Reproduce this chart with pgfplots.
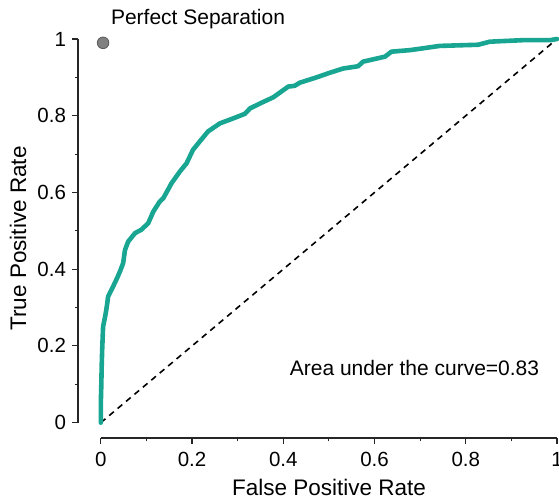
\documentclass[border=0pt]{standalone}
\usepackage{fontspec}
\setmainfont{Liberation Sans}
\usepackage{pgfplots}
\pgfplotsset{compat=1.18}
\usetikzlibrary{calc}
\definecolor{roc}{RGB}{24,166,146}
\definecolor{dotgray}{RGB}{128,128,128}

\begin{document}
\begin{tikzpicture}
\begin{axis}[
    name=ax,
    scale only axis,
    width=479pt, height=399pt,
    xmin=-0.05, xmax=1, ymin=-0.04, ymax=1,
    axis x line*=bottom, axis y line*=left,
    x axis line style={-, shorten <=22.8pt},
    y axis line style={-, shorten <=15.35pt},
    axis line style={line width=1.1pt, black!85},
    xtick={0,0.2,...,1}, ytick={0,0.2,...,1},
    minor x tick num=1, minor y tick num=1,
    tick align=outside,
    major tick length=5.5pt, minor tick length=3.3pt,
    tick style={line width=1.1pt, black!85},
    /pgf/number format/assume math mode=true,
    tick label style={font=\fontsize{20.5}{24}\selectfont},
    xticklabel style={yshift=-5pt},
    yticklabel style={xshift=-3pt},
    xlabel={False Positive Rate}, ylabel={True Positive Rate},
    label style={font=\fontsize{22.5}{27}\selectfont},
    xlabel style={at={(axis description cs:0.524,-0.125)}, anchor=center},
    ylabel style={at={(axis description cs:-0.125,0.5)}, anchor=center},
    clip=false,
]
\addplot[black, line width=1.6pt, dash pattern=on 6pt off 5pt] coordinates {(0,0) (1,1)};
\addplot[roc, line width=4.6pt, line join=round, line cap=round] coordinates {
(0,0) (0.0,0.05) (0.001,0.094) (0.002,0.15) (0.003,0.19) (0.005,0.25)
(0.01,0.28) (0.012,0.294) (0.014,0.31) (0.016,0.329) (0.027,0.355)
(0.035,0.375) (0.042,0.394) (0.049,0.416) (0.053,0.45) (0.06,0.472)
(0.075,0.494) (0.089,0.503) (0.104,0.52) (0.115,0.55) (0.129,0.576)
(0.137,0.585) (0.155,0.624) (0.173,0.654) (0.188,0.676) (0.202,0.711)
(0.217,0.733) (0.235,0.759) (0.261,0.780) (0.29,0.793) (0.316,0.805)
(0.327,0.819) (0.349,0.832) (0.378,0.848) (0.411,0.876) (0.425,0.878)
(0.436,0.886) (0.473,0.900) (0.502,0.912) (0.531,0.923) (0.564,0.929)
(0.575,0.941) (0.623,0.954) (0.637,0.967) (0.678,0.971) (0.743,0.982)
(0.827,0.985) (0.853,0.993) (0.926,0.997) (0.985,0.997) (1,1)
};
\addplot[only marks, mark=*, mark size=5.8pt, mark options={fill=dotgray, draw=black!65, line width=0.8pt}] coordinates {(0.005,0.99)};
\node[anchor=west, font=\fontsize{21}{25}\selectfont, inner sep=0pt] at (axis cs:0.022,1.052) {Perfect Separation};
\node[anchor=west, font=\fontsize{21}{25}\selectfont, inner sep=0pt] at (axis cs:0.414,0.143) {Area under the curve=0.83};
\end{axis}
\pgfresetboundingbox
\path ($(ax.south west)+(-78pt,-63pt)$) rectangle ($(ax.north east)+(2pt,39pt)$);
\end{tikzpicture}
\end{document}
